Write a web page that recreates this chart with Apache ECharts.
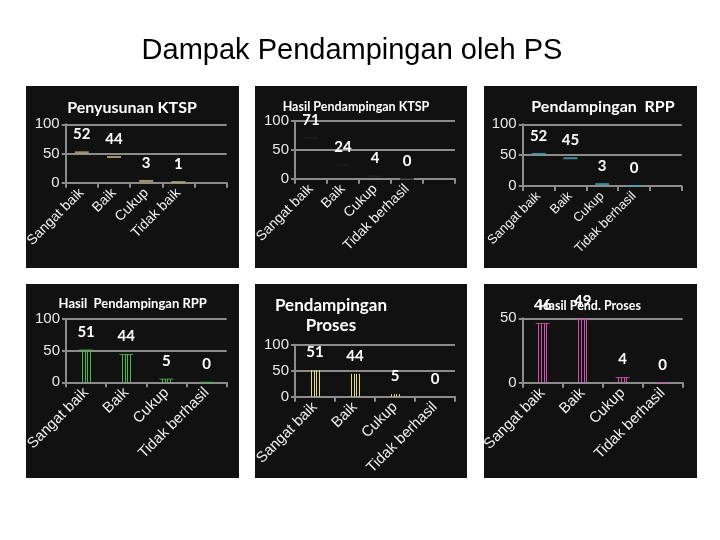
<!DOCTYPE html>
<html>
<head>
<meta charset="utf-8">
<script src="https://cdn.jsdelivr.net/npm/echarts@6/dist/echarts.min.js"></script>
<style>
html,body{margin:0;padding:0;background:#fff;}
#c{width:720px;height:540px;}
</style>
</head>
<body>
<div id="c"></div>
<script>
// ---- data ----
const categoriesA = ['Sangat baik', 'Baik', 'Cukup', 'Tidak baik', ''];
const categoriesB = ['Sangat baik', 'Baik', 'Cukup', 'Tidak berhasil', ''];
const categoriesC = ['Sangat baik', 'Baik', 'Cukup', 'Tidak berhasil'];
const penyusunanKTSP = [52, 44, 3, 1];
const hasilPendampinganKTSP = [71, 24, 4, 0];
const pendampinganRPP = [52, 45, 3, 0];
const hasilPendampinganRPP = [51, 44, 5, 0];
const pendampinganProses = [51, 44, 5, 0];
const hasilPendProses = [46, 49, 4, 0];
const mainTitle = 'Dampak Pendampingan oleh PS';

// ---- layout ----
const charts = [
  { title: 'Penyusunan KTSP', cats: categoriesA, vals: penyusunanKTSP, color: '#b8a878', mode: 'cap',
    grid: { left: 65.7, top: 124.3, width: 161, height: 58.4 }, max: 100, tp: [132, 98], ts: 16, xf: 14 },
  { title: 'Hasil Pendampingan KTSP', cats: categoriesB, vals: hasilPendampinganKTSP, color: '#1c1c1c', mode: 'cap',
    grid: { left: 295, top: 121, width: 160, height: 57.7 }, max: 100, tp: [356, 97], ts: 12.5, xf: 14 },
  { title: 'Pendampingan  RPP', cats: categoriesB, vals: pendampinganRPP, color: '#4aa0b4', mode: 'cap',
    grid: { left: 522.7, top: 124.3, width: 159, height: 61.7 }, max: 100, tp: [603, 97], ts: 16, xf: 13 },
  { title: 'Hasil  Pendampingan RPP', cats: categoriesC, vals: hasilPendampinganRPP, color: '#44bb44', mode: 'linescap',
    grid: { left: 66, top: 319, width: 160.7, height: 63.3 }, max: 100, tp: [132.7, 293.5], ts: 13, xf: 15 },
  { title: 'Pendampingan\nProses', cats: categoriesC, vals: pendampinganProses, color: '#e4da7c', mode: 'lines',
    grid: { left: 295, top: 344.7, width: 160, height: 52 }, max: 100, tp: [331, 296], ts: 17, xf: 15 },
  { title: 'Hasil Pend. Proses', cats: categoriesC, vals: hasilPendProses, color: '#d050b0', mode: 'linescap',
    grid: { left: 522.7, top: 318.3, width: 160, height: 64.4 }, max: 50, tp: [590, 295.5], ts: 12.5, xf: 15 }
];

const panels = [
  [26, 86, 213, 182], [255, 86, 212, 182], [484, 86, 213, 182],
  [26, 284, 213, 194], [255, 284, 212, 194], [484, 284, 213, 194]
];

function makeRender(cfg) {
  return function (params, api) {
    const idx = api.value(0), v = api.value(1);
    const top = api.coord([idx, v]);
    const base = api.coord([idx, 0]);
    const cx = top[0];
    const children = [];
    if (cfg.mode === 'lines' || cfg.mode === 'linescap') {
      [-4.5, -1.5, 1, 3.5].forEach(function (o) {
        const x = Math.round(cx + o) + 0.5;
        children.push({ type: 'line', shape: { x1: x, y1: base[1], x2: x, y2: top[1] },
          style: { stroke: cfg.color, lineWidth: 1 } });
      });
    }
    if (cfg.mode === 'cap' || cfg.mode === 'linescap') {
      children.push({ type: 'line', shape: { x1: cx - 7, y1: top[1], x2: cx + 7, y2: top[1] },
        style: { stroke: cfg.color, lineWidth: cfg.mode === 'cap' ? 2 : 1, opacity: 0.85 } });
    }
    children.push({ type: 'text', x: cx, y: top[1] - 18,
      style: { text: String(v), fill: '#ffffff', font: 'bold 15px Lato', align: 'center', verticalAlign: 'middle' } });
    return { type: 'group', children: children };
  };
}

const axisGrey = '#8c8c8c';
const option = {
  backgroundColor: '#ffffff',
  animation: false,
  graphic: panels.map(function (p) {
    return { type: 'rect', z: -10, shape: { x: p[0], y: p[1], width: p[2], height: p[3] }, style: { fill: '#111111' } };
  }),
  title: [{ text: mainTitle, left: 352, top: 36, textAlign: 'center', padding: 0,
    textStyle: { fontFamily: 'Liberation Sans', fontSize: 29, fontWeight: 'normal', color: '#000' } }]
    .concat(charts.map(function (c) {
      return { text: c.title, left: c.tp[0], top: c.tp[1], textAlign: 'center', padding: 0,
        textStyle: { fontFamily: 'Lato', fontSize: c.ts, fontWeight: 'bold', color: '#ffffff', lineHeight: 20 } };
    })),
  grid: charts.map(function (c) { return Object.assign({ containLabel: false }, c.grid); }),
  xAxis: charts.map(function (c, i) {
    return {
      type: 'category', gridIndex: i, data: c.cats, boundaryGap: true,
      axisLine: { lineStyle: { color: axisGrey, width: 2 } },
      axisTick: { show: true, interval: 0, length: 5, lineStyle: { color: axisGrey, width: 2 } },
      axisLabel: { interval: 0, rotate: 45, margin: 8, color: '#f0f0f0', fontFamily: 'Liberation Sans', fontSize: c.xf }
    };
  }),
  yAxis: charts.map(function (c, i) {
    return {
      type: 'value', gridIndex: i, min: 0, max: c.max, interval: 50,
      axisLine: { show: true, lineStyle: { color: axisGrey, width: 2 } },
      axisTick: { show: true, length: 4, lineStyle: { color: axisGrey, width: 2 } },
      splitLine: { show: true, lineStyle: { color: axisGrey, width: 2 } },
      axisLabel: { margin: 6, color: '#e8e8e8', fontFamily: 'Liberation Sans', fontSize: 15 }
    };
  }),
  series: charts.map(function (c, i) {
    return {
      type: 'custom', xAxisIndex: i, yAxisIndex: i, clip: false,
      renderItem: makeRender(c),
      encode: { x: 0, y: 1 },
      data: c.vals.map(function (v, k) { return [k, v]; })
    };
  })
};

const chart = echarts.init(document.getElementById('c'));
chart.setOption(option);
</script>
</body>
</html>
